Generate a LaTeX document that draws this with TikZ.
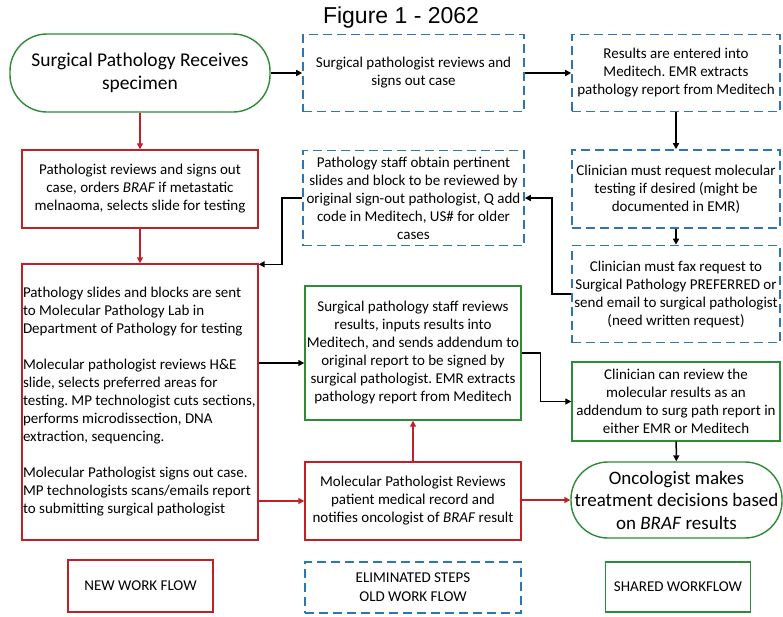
\documentclass[tikz,border=0pt]{standalone}
\usepackage{fontspec}
\setmainfont{Carlito}
\newfontfamily\titlefont{Liberation Sans}
\usetikzlibrary{arrows.meta}
\definecolor{newred}{RGB}{192,32,38}
\definecolor{oldblue}{RGB}{46,117,182}
\definecolor{sharedgreen}{RGB}{46,139,56}
\frenchspacing

\begin{document}
\begin{tikzpicture}[x=1pt, y=-1pt, >={Triangle[length=6pt,width=6pt]},
    every node/.style={font=\fontsize{15}{18}\selectfont, align=center, inner sep=1pt},
    newbox/.style={draw=newred, line width=1.4pt},
    oldbox/.style={draw=oldblue, line width=1.6pt, dash pattern=on 9pt off 5pt},
    sharedbox/.style={draw=sharedgreen, line width=1.4pt},
    endbox/.style={sharedbox, rounded corners=37pt, font=\fontsize{19.5}{23}\selectfont},
    flow/.style={->, line width=1.5pt, black},
    newflow/.style={->, line width=1.5pt, newred},
    legend/.style={font=\fontsize{15}{19}\selectfont}]

    % canvas
    \fill[white] (0,0) rectangle (783,616);
    \useasboundingbox (0,0) rectangle (783,616);

    % title
    \node[font=\titlefont\fontsize{23}{26}\selectfont] (title) at (401,18) {Figure 1 - 2062};

    % first row
    \node[endbox, minimum width=260, minimum height=78] (start) at (140,73)
        {Surgical Pathology Receives\\specimen};
    \node[oldbox, minimum width=221, minimum height=77] (signout) at (413.5,73)
        {Surgical pathologist reviews and\\signs out case};
    \node[oldbox, minimum width=208, minimum height=77] (results) at (676,73)
        {Results are entered into\\Meditech. EMR extracts\\pathology report from Meditech};

    % second row
    \node[newbox, minimum width=236, minimum height=78] (pathrev) at (140,189)
        {Pathologist reviews and signs out\\case, orders \textit{BRAF} if metastatic\\melnaoma, selects slide for testing};
    \node[oldbox, minimum width=221, minimum height=95] (obtain) at (413.5,198)
        {Pathology staff obtain pertinent\\slides and block to be reviewed by\\original sign-out pathologist, Q add\\code in Meditech, US\# for older\\cases};
    \node[oldbox, minimum width=208, minimum height=78] (request) at (676,189)
        {Clinician must request molecular\\testing if desired (might be\\documented in EMR)};
    \node[oldbox, minimum width=208, minimum height=97] (fax) at (676,294)
        {Clinician must fax request to\\Surgical Pathology PREFERRED or\\send email to surgical pathologist\\(need written request)};

    % molecular pathology block
    \node[newbox, minimum width=236, minimum height=276, text width=234, inner xsep=1pt, align=flush left] (sent) at (140,402)
        {Pathology slides and blocks are sent\\to Molecular Pathology Lab in\\Department of Pathology for testing\\[18pt]
         Molecular pathologist reviews H\&E\\slide, selects preferred areas for\\testing. MP technologist cuts sections,\\performs microdissection, DNA\\extraction, sequencing.\\[18pt]
         Molecular Pathologist signs out case.\\MP technologists scans/emails report\\to submitting surgical pathologist};
    \node[sharedbox, minimum width=216, minimum height=134] (staffrev) at (413,353)
        {Surgical pathology staff reviews\\results, inputs results into\\Meditech, and sends addendum to\\original report to be signed by\\surgical pathologist. EMR extracts\\pathology report from Meditech};
    \node[sharedbox, minimum width=208, minimum height=79] (review) at (676,401.5)
        {Clinician can review the\\molecular results as an\\addendum to surg path report in\\either EMR or Meditech};
    \node[newbox, minimum width=216, minimum height=78] (molrev) at (413,501)
        {Molecular Pathologist Reviews\\patient medical record and\\notifies oncologist of \textit{BRAF} result};
    \node[endbox, minimum width=211, minimum height=76, font=\fontsize{19}{22.5}\selectfont] (oncol) at (676.5,500)
        {Oncologist makes\\treatment decisions based\\on \textit{BRAF} results};

    % legend
    \node[newbox, legend, minimum width=145, minimum height=52] (keynew) at (140.5,586) {NEW WORK FLOW};
    \node[oldbox, legend, minimum width=216, minimum height=51] (keyold) at (413,587.5) {ELIMINATED STEPS\\OLD WORK FLOW};
    \node[sharedbox, legend, minimum width=145, minimum height=50] (keyshared) at (678,587) {SHARED WORKFLOW};

    % old work flow connectors
    \draw[flow] (start) -- (signout);
    \draw[flow] (signout) -- (results);
    \draw[flow] (results) -- (request);
    \draw[flow] (request) -- (fax);
    \draw[flow] (fax.west) -- ++(-19,0) |- (obtain.east);
    \draw[flow] (obtain.west) -- ++(-20,0) |- ([yshift=-1pt]sent.north east);

    % new work flow connectors
    \draw[newflow] (start) -- (pathrev);
    \draw[newflow] (pathrev) -- (sent);
    \draw[newflow] (molrev.west -| sent.east) -- (molrev.west);
    \draw[newflow] (molrev) -- (staffrev);
    \draw[newflow] (molrev.east) -- (oncol.west -| molrev.east) -- (oncol.west);

    % shared connectors
    \draw[flow] ([yshift=-10pt]staffrev.west -| sent.east) -- ([yshift=-10pt]staffrev.west);
    \draw[flow] (staffrev.east) -- ++(19,0) |- (review.west);
    \draw[flow] (review) -- (oncol);

\end{tikzpicture}
\end{document}
